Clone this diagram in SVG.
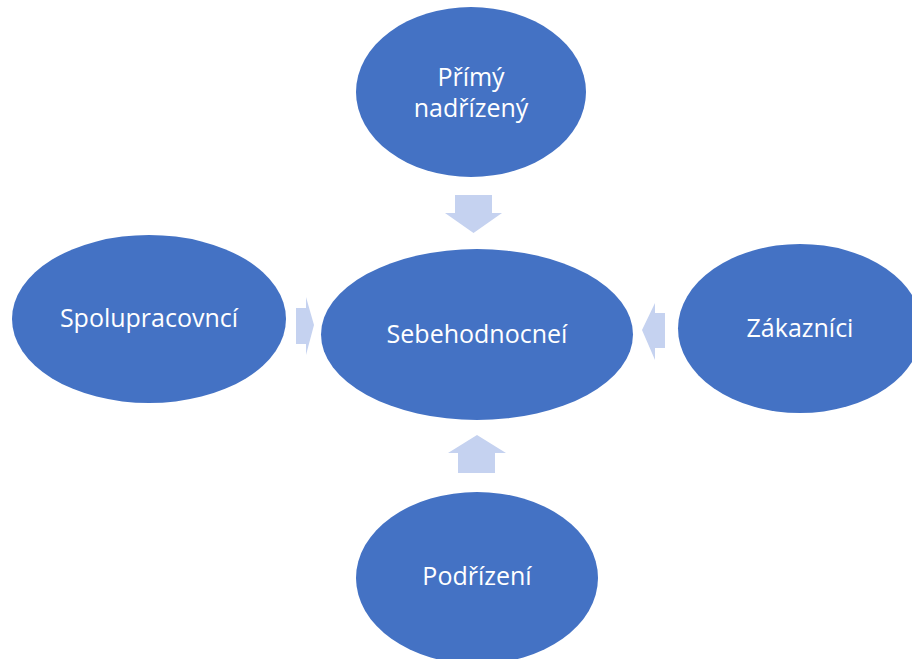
<svg xmlns="http://www.w3.org/2000/svg" width="912" height="659" viewBox="0 0 912 659">
<style>
.node{fill:#4472C4;}
.lbl{fill:#FFFFFF;font-family:"Open Sans","Noto Sans",sans-serif;font-size:25px;text-anchor:middle;}
.arr{fill:#C5D2F0;}
</style>
<rect width="912" height="659" fill="#FFFFFF"/>
<g id="connectors">
<polygon class="arr" points="455,195 492,195 492,213 502,213 473.5,233 445,213 455,213"/>
<polygon class="arr" points="458,473 495,473 495,453 506,453 477,435 448,453 458,453"/>
<polygon class="arr" points="296,308 306,308 306,297 314,325 306,355 306,344 296,344"/>
<polygon class="arr" points="665,313 655,313 655,303 642,330 655,360 655,348 665,348"/>
</g>
<g id="node-top">
<ellipse class="node" cx="471" cy="92" rx="115" ry="85"/>
<text class="lbl" x="471" y="86">Přímý</text>
<text class="lbl" x="471" y="117">nadřízený</text>
</g>
<g id="node-center">
<ellipse class="node" cx="477" cy="334.5" rx="156" ry="85.5"/>
<text class="lbl" x="477" y="343">Sebehodnocneí</text>
</g>
<g id="node-left">
<ellipse class="node" cx="149" cy="319" rx="137" ry="84"/>
<text class="lbl" x="149" y="327">Spolupracovncí</text>
</g>
<g id="node-right">
<ellipse class="node" cx="800" cy="328.5" rx="122" ry="84.5"/>
<text class="lbl" x="800" y="337">Zákazníci</text>
</g>
<g id="node-bottom">
<ellipse class="node" cx="477" cy="578" rx="121" ry="86"/>
<text class="lbl" x="477" y="585">Podřízení</text>
</g>
</svg>
